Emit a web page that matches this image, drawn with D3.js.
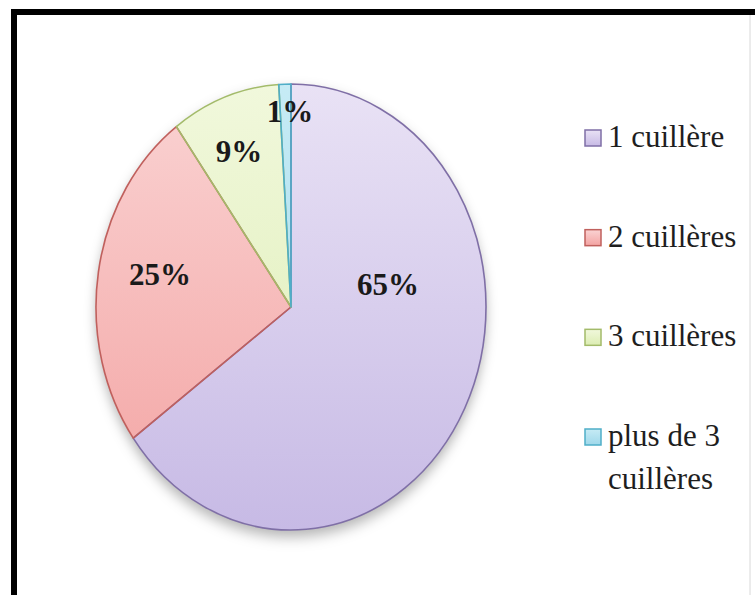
<!DOCTYPE html>
<html>
<head>
<meta charset="utf-8">
<script src="https://cdn.jsdelivr.net/npm/d3@7/dist/d3.min.js"></script>
<style>
  html, body { margin: 0; padding: 0; background: #fff; }
  svg { display: block; }
</style>
</head>
<body>
<svg id="chart" width="755" height="595"></svg>
<script>
// Number of spoons used: share of respondents
const categories = ["1 cuillère", "2 cuillères", "3 cuillères", "plus de 3 cuillères"];
const legendLines = [["1 cuillère"], ["2 cuillères"], ["3 cuillères"], ["plus de 3", "cuillères"]];
const values = [65, 25, 9, 1];
const valueLabels = ["65%", "25%", "9%", "1%"];

// Slice styling: gradient top/bottom and outline colour
const fillTop = ["#e9e2f5", "#fad3d3", "#f1f8dc", "#c6ebf5"];
const fillBottom = ["#c7bae5", "#f3a3a2", "#dcedb2", "#9fd8ea"];
const strokeCols = ["#7f6fa6", "#c0605d", "#a3bb6a", "#4faec8"];

// Label anchors, in units of the pie's radii (x: rx, y: ry) from its centre
const labelSpots = [[0.497, -0.054], [-0.672, -0.099], [-0.267, -0.650], [-0.005, -0.830]];

const FONT = '"Liberation Serif"';

const svg = d3.select("#chart");
const W = 755, H = 595;

// Frame
svg.append("rect").attr("width", W).attr("height", H).attr("fill", "#fff");
svg.append("line").attr("x1", 750).attr("x2", 750).attr("y1", 14).attr("y2", H)
  .attr("stroke", "#d8d8d8").attr("stroke-width", 1);
svg.append("line").attr("x1", 11).attr("x2", W).attr("y1", 12).attr("y2", 12)
  .attr("stroke", "#000").attr("stroke-width", 6);
svg.append("line").attr("x1", 14).attr("x2", 14).attr("y1", 9).attr("y2", H)
  .attr("stroke", "#000").attr("stroke-width", 6);

const defs = svg.append("defs");
const R = 100;
categories.forEach((c, i) => {
  const g = defs.append("linearGradient").attr("id", "grad" + i)
    .attr("gradientUnits", "userSpaceOnUse")
    .attr("x1", 0).attr("x2", 0).attr("y1", -R).attr("y2", R);
  g.append("stop").attr("offset", "0%").attr("stop-color", fillTop[i]);
  g.append("stop").attr("offset", "100%").attr("stop-color", fillBottom[i]);
  const lg = defs.append("linearGradient").attr("id", "lg" + i)
    .attr("x1", 0).attr("x2", 0).attr("y1", 0).attr("y2", 1);
  lg.append("stop").attr("offset", "0%").attr("stop-color", fillTop[i]);
  lg.append("stop").attr("offset", "100%").attr("stop-color", fillBottom[i]);
});
const sh = defs.append("filter").attr("id", "shadow")
  .attr("x", "-10%").attr("y", "-10%").attr("width", "120%").attr("height", "125%");
sh.append("feDropShadow").attr("dx", 0).attr("dy", 3).attr("stdDeviation", 3)
  .attr("flood-color", "#000").attr("flood-opacity", 0.3);

// Pie geometry (elliptical)
const cx = 291, cy = 307, rx = 195, ry = 223;

const pie = d3.pie().sort(null).value(d => d);
const arcs = pie(values);
const arc = d3.arc().innerRadius(0).outerRadius(R);

const pieG = svg.append("g")
  .attr("transform", `translate(${cx},${cy}) scale(${rx / R},${ry / R})`);

pieG.append("g").attr("filter", "url(#shadow)")
  .selectAll("path").data(arcs).join("path")
  .attr("d", arc)
  .attr("fill", (d, i) => `url(#grad${i})`);

pieG.append("g").selectAll("path").data(arcs).join("path")
  .attr("d", arc)
  .attr("fill", "none")
  .attr("stroke", (d, i) => strokeCols[i])
  .attr("stroke-width", 1.6)
  .attr("stroke-linejoin", "round")
  .attr("vector-effect", "non-scaling-stroke");

// Percentage labels
svg.append("g").selectAll("text").data(arcs).join("text")
  .attr("x", (d, i) => cx + labelSpots[i][0] * rx)
  .attr("y", (d, i) => cy + labelSpots[i][1] * ry)
  .attr("text-anchor", "middle")
  .style("font-family", FONT)
  .style("font-weight", "bold")
  .style("font-size", "31px")
  .attr("fill", "#1a1a1a")
  .text((d, i) => valueLabels[i]);

// Legend
const ly = d3.scalePoint().domain(categories).range([147, 446]);
const leg = svg.append("g").selectAll("g").data(categories).join("g")
  .attr("transform", d => `translate(0,${ly(d)})`);
leg.append("rect")
  .attr("x", 585).attr("y", -17).attr("width", 16).attr("height", 16)
  .attr("fill", (d, i) => `url(#lg${i})`)
  .attr("stroke", (d, i) => strokeCols[i]).attr("stroke-width", 1.5);
leg.append("text")
  .style("font-family", FONT)
  .style("font-size", "31px")
  .attr("fill", "#1e1e1e")
  .selectAll("tspan").data((d, i) => legendLines[i]).join("tspan")
  .attr("x", 608)
  .attr("y", (d, j) => j * 43)
  .text(d => d);
</script>
</body>
</html>
